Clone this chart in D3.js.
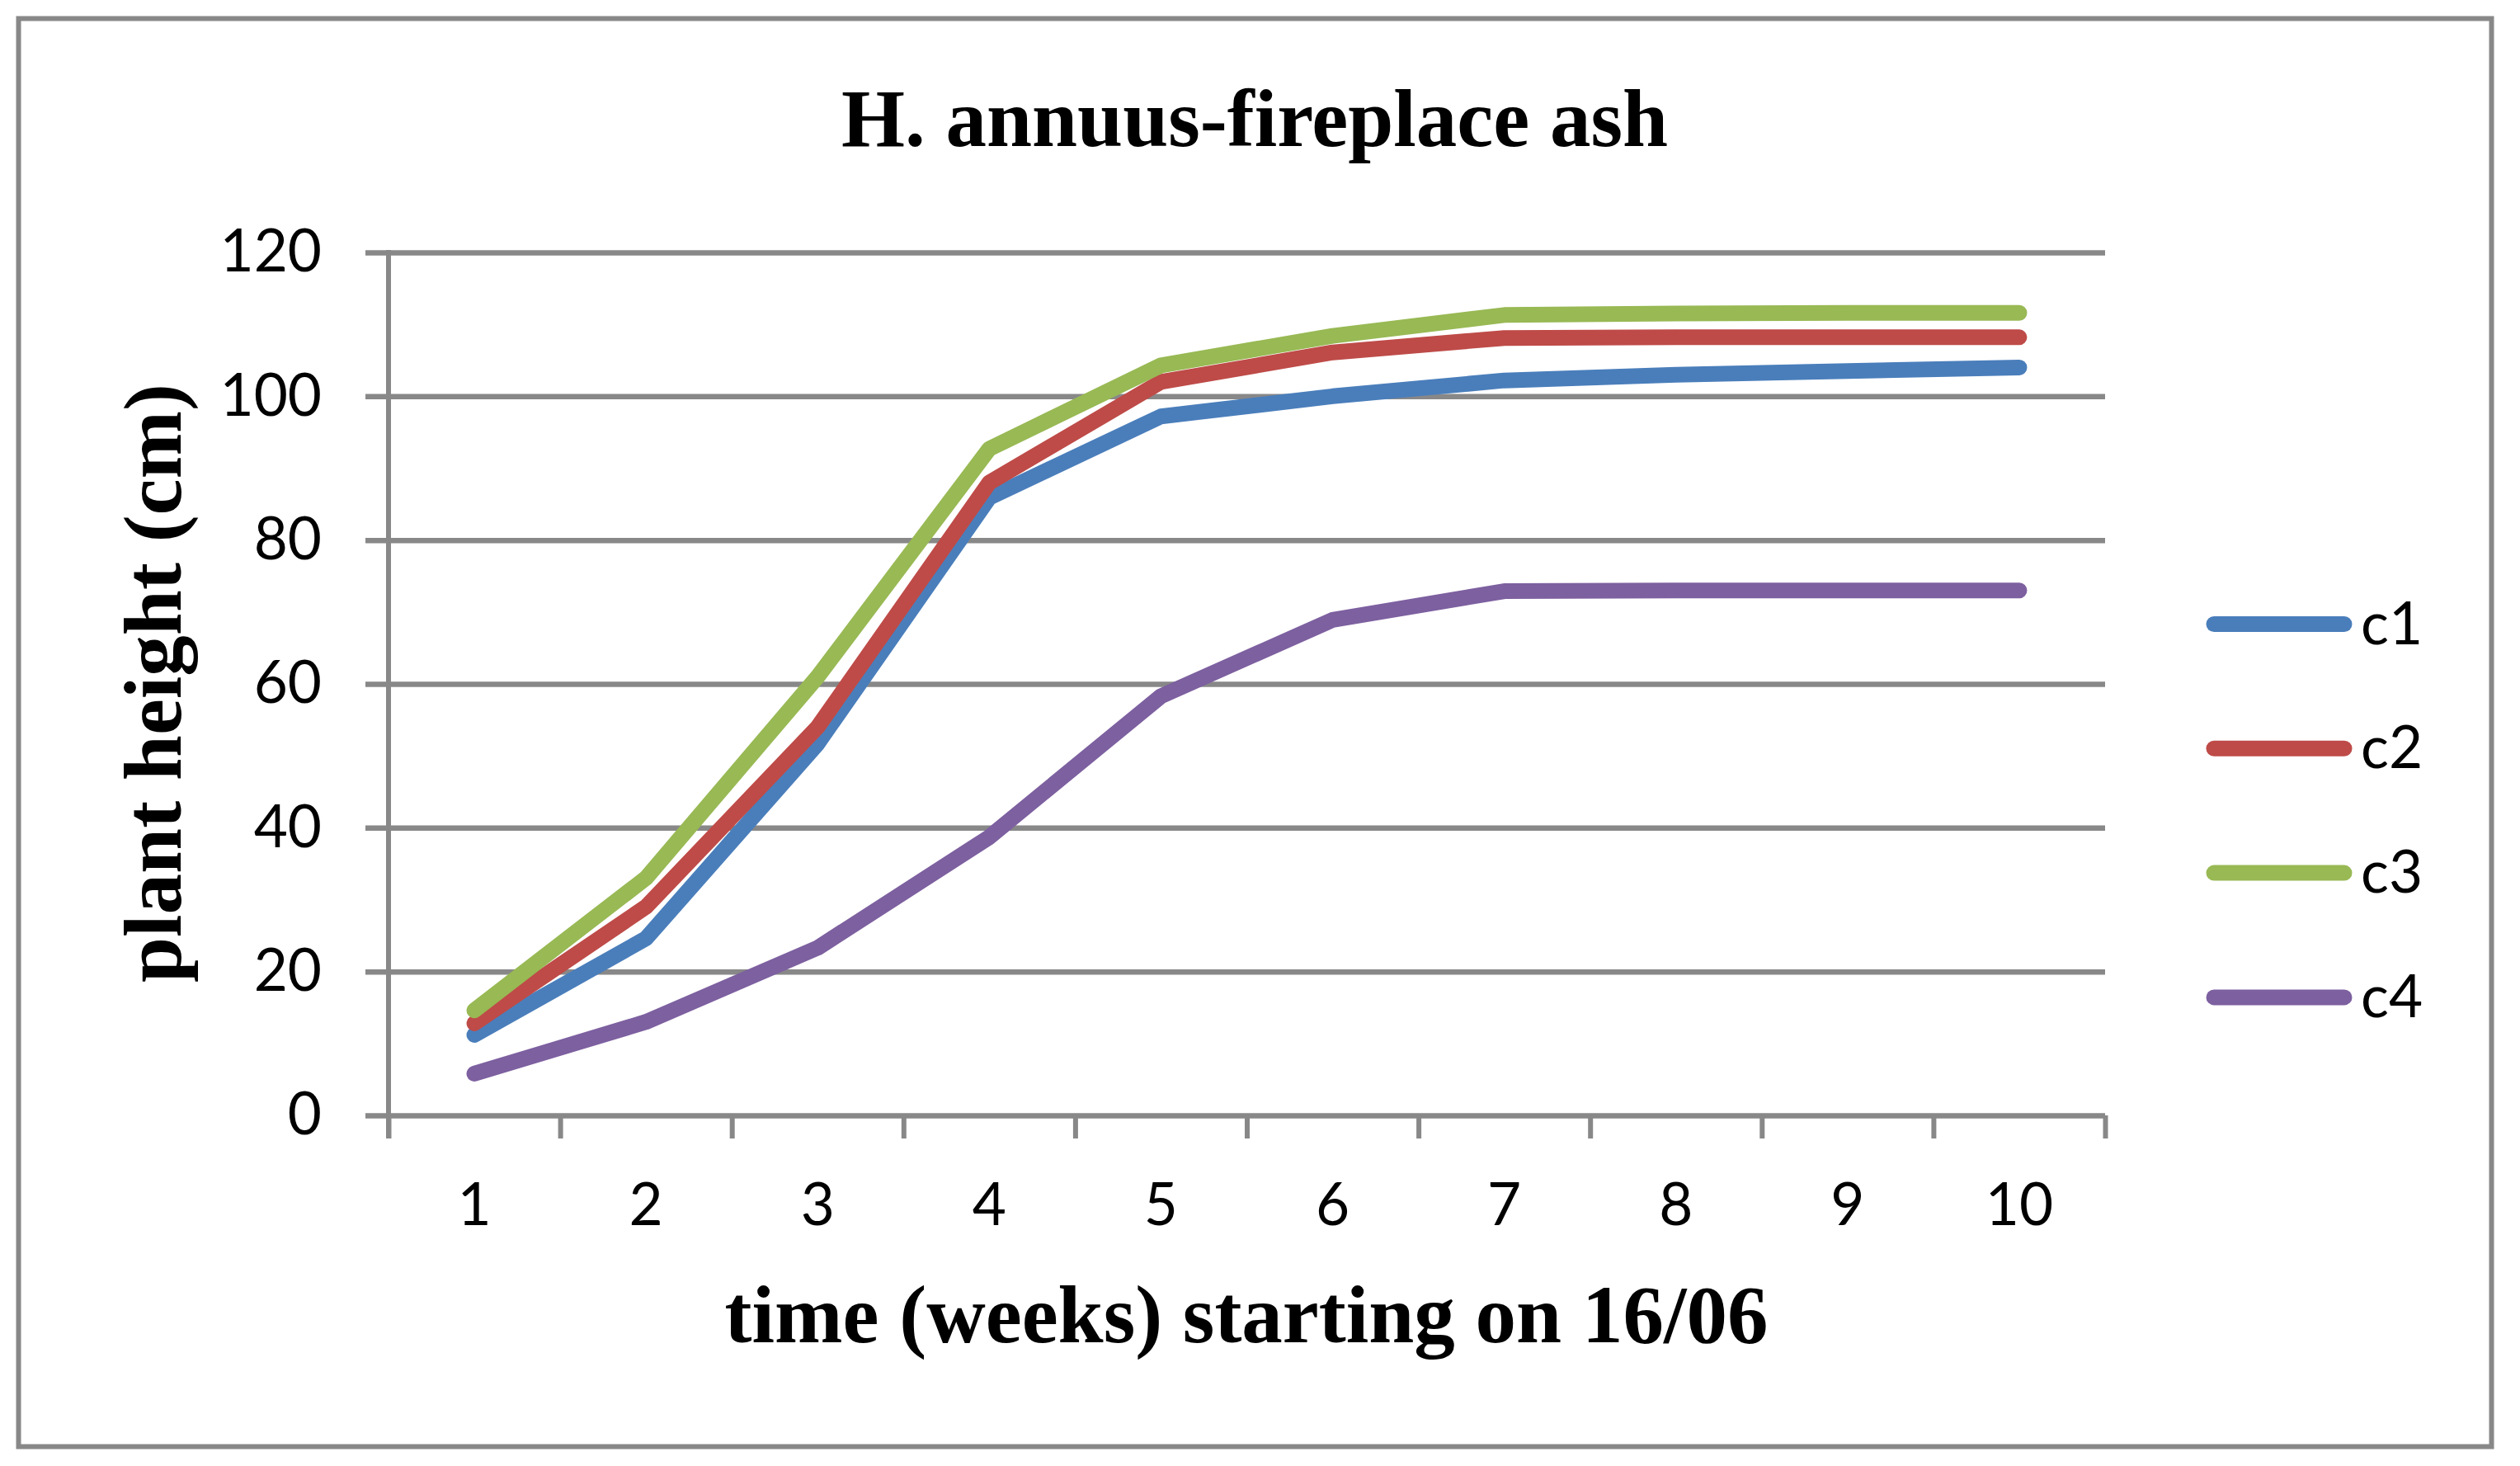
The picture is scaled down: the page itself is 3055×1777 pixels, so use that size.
<!DOCTYPE html>
<html>
<head>
<meta charset="utf-8">
<script src="https://cdn.jsdelivr.net/npm/d3@7"></script>
<style>
  html, body { margin: 0; padding: 0; background: #ffffff; }
  svg { display: block; }
</style>
</head>
<body>
<script>
// ---- data ----
const weeks = ["1", "2", "3", "4", "5", "6", "7", "8", "9", "10"];
const seriesNames = ["c1", "c2", "c3", "c4"];
const c1 = [11.2, 24.6, 51.7, 85.9, 97.2, 100.0, 102.2, 103.0, 103.5, 104.0];
const c2 = [12.8, 29.0, 54.0, 88.0, 102.0, 106.1, 108.1, 108.2, 108.2, 108.2];
const c3 = [14.6, 33.0, 61.0, 92.7, 104.3, 108.4, 111.3, 111.5, 111.6, 111.6];
const c4 = [5.8, 13.0, 23.3, 38.7, 58.3, 68.9, 72.9, 73.0, 73.0, 73.0];
const yTicks = [0, 20, 40, 60, 80, 100, 120];
const titleText = "H. annuus-fireplace ash";
const xTitleText = "time (weeks) starting on 16/06";
const yTitleText = "plant height (cm)";

const seriesValues = [c1, c2, c3, c4];
const colors = ["#4A7EBB", "#BE4B48", "#98B954", "#7D60A0"];

// ---- layout ----
const W = 3055, H = 1777;
const plotL = 471, plotR = 2552, plotT = 306, plotB = 1352;
const gridLeft = 443;
const grey = "#888888";
const sans = "Lato, 'Open Sans', 'Liberation Sans', sans-serif";
const serif = "'Liberation Serif', 'Times New Roman', serif";

const svg = d3.select("body").append("svg")
  .attr("width", W).attr("height", H);

svg.append("rect").attr("width", W).attr("height", H).attr("fill", "#fff");

// outer border
svg.append("rect")
  .attr("x", 22.5).attr("y", 22.5)
  .attr("width", 2998).attr("height", 1731)
  .attr("fill", "none").attr("stroke", grey).attr("stroke-width", 6);

// scales
const x = d3.scaleBand().domain(weeks).range([plotL, plotR]).padding(0);
const xEdge = d3.scaleLinear().domain([0, weeks.length]).range([plotL, plotR]);
const y = d3.scaleLinear().domain([0, 120]).range([plotB, plotT]);

// y gridlines + labels
const yAxis = svg.append("g")
  .attr("transform", `translate(${plotR},0)`)
  .call(d3.axisLeft(y).tickValues(yTicks).tickSize(plotR - gridLeft).tickPadding(53));
yAxis.select(".domain").remove();
yAxis.selectAll(".tick line").attr("stroke", grey).attr("stroke-width", 6.5);
yAxis.selectAll(".tick text")
  .attr("fill", "#000").style("font-family", sans).style("font-size", "71px");

// x tick marks at category boundaries
const xTickAxis = svg.append("g")
  .attr("transform", `translate(0,${plotB})`)
  .call(d3.axisBottom(xEdge).tickValues(d3.range(0, weeks.length + 1)).tickSize(28).tickFormat(""));
xTickAxis.select(".domain").remove();
xTickAxis.selectAll(".tick line").attr("stroke", grey).attr("stroke-width", 6);

// x labels
const xLab = svg.append("g")
  .attr("transform", `translate(0,${plotB})`)
  .call(d3.axisBottom(x).tickSize(0).tickPadding(133));
xLab.select(".domain").remove();
xLab.selectAll(".tick text")
  .attr("fill", "#000").attr("dy", "0")
  .style("font-family", sans).style("font-size", "71px");

// y axis line
svg.append("line")
  .attr("x1", plotL).attr("x2", plotL)
  .attr("y1", plotT - 3).attr("y2", plotB + 28)
  .attr("stroke", grey).attr("stroke-width", 6);

// data lines
const line = d3.line()
  .x((d, i) => x(weeks[i]) + x.bandwidth() / 2)
  .y(d => y(d));

seriesValues.forEach((vals, i) => {
  svg.append("path")
    .datum(vals)
    .attr("d", line)
    .attr("fill", "none")
    .attr("stroke", colors[i])
    .attr("stroke-width", 19)
    .attr("stroke-linecap", "round")
    .attr("stroke-linejoin", "round");
});

// legend
const leg = svg.append("g");
seriesNames.forEach((name, i) => {
  const ly = 756.5 + i * 150.8;
  leg.append("line")
    .attr("x1", 2684).attr("x2", 2842)
    .attr("y1", ly).attr("y2", ly)
    .attr("stroke", colors[i]).attr("stroke-width", 19)
    .attr("stroke-linecap", "round");
  leg.append("text")
    .attr("x", 2862).attr("y", ly + 24)
    .style("font-family", sans).style("font-size", "71px")
    .attr("fill", "#000")
    .text(name);
});

// titles
svg.append("text")
  .attr("x", 1521).attr("y", 177)
  .attr("text-anchor", "middle")
  .style("font-family", serif).style("font-weight", "bold").style("font-size", "99px")
  .text(titleText);

svg.append("text")
  .attr("x", 1511).attr("y", 1627)
  .attr("text-anchor", "middle")
  .style("font-family", serif).style("font-weight", "bold").style("font-size", "99px")
  .text(xTitleText);

svg.append("text")
  .attr("transform", "translate(219,828) rotate(-90)")
  .attr("text-anchor", "middle")
  .style("font-family", serif).style("font-weight", "bold").style("font-size", "99px")
  .text(yTitleText);
</script>
</body>
</html>
